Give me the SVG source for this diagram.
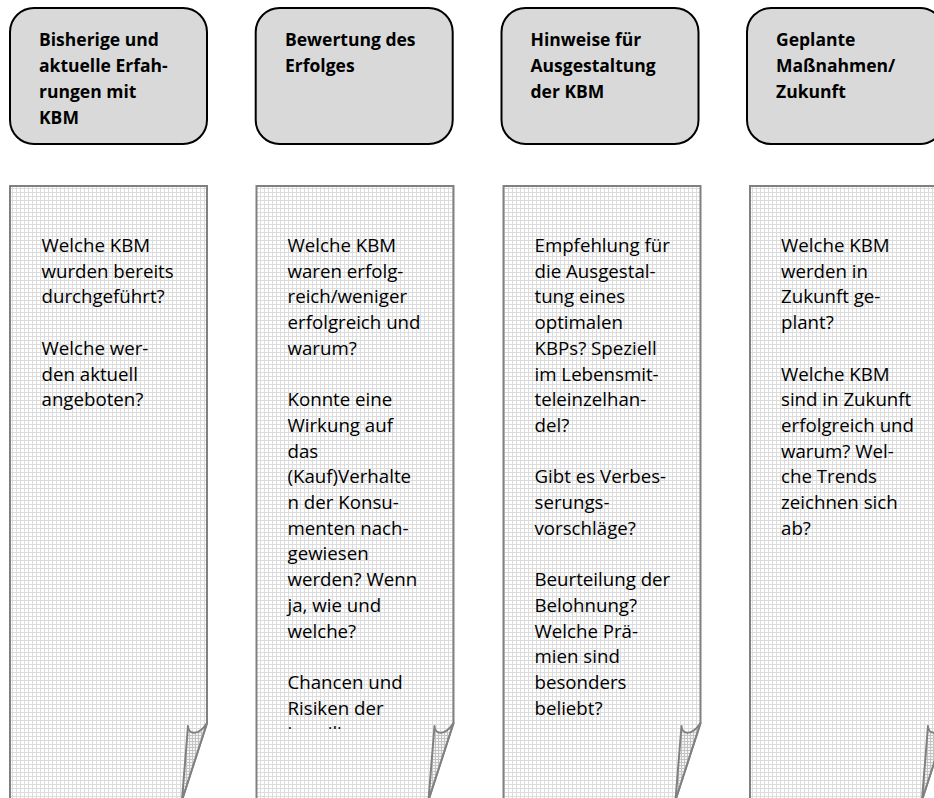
<svg xmlns="http://www.w3.org/2000/svg" width="934" height="798" viewBox="0 0 934 798">
<defs>
<pattern id="grid" width="4" height="4" patternUnits="userSpaceOnUse">
<rect width="4" height="4" fill="#ffffff"/>
<path d="M0 0.5H4M0.5 0V4" stroke="#dcdcdc" stroke-width="1"/>
</pattern>
<pattern id="grid2" width="3" height="3" patternUnits="userSpaceOnUse">
<rect width="3" height="3" fill="#f4f4f4"/>
<path d="M0 0.5H3M0.5 0V3" stroke="#c4c4c4" stroke-width="1"/>
</pattern>
<clipPath id="clip2"><rect x="250" y="186" width="210" height="543"/></clipPath>
</defs>
<style>
.head{fill:#d9d9d9;stroke:#000;stroke-width:2}
.doc{fill:url(#grid);stroke:#808080;stroke-width:2}
.flap{fill:url(#grid2);stroke:#808080;stroke-width:2;stroke-linejoin:round}
.ht{font-family:"Open Sans","Noto Sans",sans-serif;font-weight:bold;font-size:17.5px;fill:#000}
.bt{font-family:"Open Sans","Noto Sans",sans-serif;font-size:18.7px;fill:#000}
</style>

<g id="head1">
<rect class="head" x="10" y="8" width="197" height="136" rx="24" ry="24"/>
<text class="ht"><tspan x="39" y="46">Bisherige und</tspan><tspan x="39" y="72">aktuelle Erfah-</tspan><tspan x="39" y="98">rungen mit</tspan><tspan x="39" y="124">KBM</tspan></text>
</g>
<g id="head2">
<rect class="head" x="255.7" y="8" width="197" height="136" rx="24" ry="24"/>
<text class="ht"><tspan x="285" y="46">Bewertung des</tspan><tspan x="285" y="72">Erfolges</tspan></text>
</g>
<g id="head3">
<rect class="head" x="501.5" y="8" width="197" height="136" rx="24" ry="24"/>
<text class="ht"><tspan x="530.5" y="46">Hinweise für</tspan><tspan x="530.5" y="72">Ausgestaltung</tspan><tspan x="530.5" y="98">der KBM</tspan></text>
</g>
<g id="head4">
<rect class="head" x="747" y="8" width="197" height="136" rx="24" ry="24"/>
<text class="ht"><tspan x="776" y="46">Geplante</tspan><tspan x="776" y="72">Maßnahmen/</tspan><tspan x="776" y="98">Zukunft</tspan></text>
</g>

<g id="doc1">
<path class="doc" d="M10,186 H207 V723 L182,800 H10 Z"/>
<path class="flap" d="M188,726 C188,733 197,738 207,723 L182,800 Z"/>
<text class="bt"><tspan x="41.5" y="252">Welche KBM</tspan><tspan x="41.5" y="277.7">wurden bereits</tspan><tspan x="41.5" y="303.4">durchgeführt?</tspan><tspan x="41.5" y="354.8">Welche wer-</tspan><tspan x="41.5" y="380.5">den aktuell</tspan><tspan x="41.5" y="406.2">angeboten?</tspan></text>
</g>

<g id="doc2">
<path class="doc" d="M256.5,186 H453.5 V723 L428.5,800 H256.5 Z"/>
<path class="flap" d="M434.5,726 C434.5,733 443.5,738 453.5,723 L428.5,800 Z"/>
<text class="bt" clip-path="url(#clip2)"><tspan x="287.5" y="252">Welche KBM</tspan><tspan x="287.5" y="277.7">waren erfolg-</tspan><tspan x="287.5" y="303.4">reich/weniger</tspan><tspan x="287.5" y="329.1">erfolgreich und</tspan><tspan x="287.5" y="354.8">warum?</tspan><tspan x="287.5" y="406.2">Konnte eine</tspan><tspan x="287.5" y="431.9">Wirkung auf</tspan><tspan x="287.5" y="457.6">das</tspan><tspan x="287.5" y="483.3">(Kauf)Verhalte</tspan><tspan x="287.5" y="509">n der Konsu-</tspan><tspan x="287.5" y="534.7">menten nach-</tspan><tspan x="287.5" y="560.4">gewiesen</tspan><tspan x="287.5" y="586.1">werden? Wenn</tspan><tspan x="287.5" y="611.8">ja, wie und</tspan><tspan x="287.5" y="637.5">welche?</tspan><tspan x="287.5" y="688.9">Chancen und</tspan><tspan x="287.5" y="714.6">Risiken der</tspan><tspan x="287.5" y="740.3">jeweiligen</tspan></text>
</g>

<g id="doc3">
<path class="doc" d="M503.5,186 H700.5 V723 L675.5,800 H503.5 Z"/>
<path class="flap" d="M681.5,726 C681.5,733 690.5,738 700.5,723 L675.5,800 Z"/>
<text class="bt"><tspan x="534.5" y="252">Empfehlung für</tspan><tspan x="534.5" y="277.7">die Ausgestal-</tspan><tspan x="534.5" y="303.4">tung eines</tspan><tspan x="534.5" y="329.1">optimalen</tspan><tspan x="534.5" y="354.8">KBPs? Speziell</tspan><tspan x="534.5" y="380.5">im Lebensmit-</tspan><tspan x="534.5" y="406.2">teleinzelhan-</tspan><tspan x="534.5" y="431.9">del?</tspan><tspan x="534.5" y="483.3">Gibt es Verbes-</tspan><tspan x="534.5" y="509">serungs-</tspan><tspan x="534.5" y="534.7">vorschläge?</tspan><tspan x="534.5" y="586.1">Beurteilung der</tspan><tspan x="534.5" y="611.8">Belohnung?</tspan><tspan x="534.5" y="637.5">Welche Prä-</tspan><tspan x="534.5" y="663.2">mien sind</tspan><tspan x="534.5" y="688.9">besonders</tspan><tspan x="534.5" y="714.6">beliebt?</tspan></text>
</g>

<g id="doc4">
<path class="doc" d="M750,186 H947 V723 L922,800 H750 Z"/>
<path class="flap" d="M928,726 C928,733 937,738 947,723 L922,800 Z"/>
<text class="bt"><tspan x="781" y="252">Welche KBM</tspan><tspan x="781" y="277.7">werden in</tspan><tspan x="781" y="303.4">Zukunft ge-</tspan><tspan x="781" y="329.1">plant?</tspan><tspan x="781" y="380.5">Welche KBM</tspan><tspan x="781" y="406.2">sind in Zukunft</tspan><tspan x="781" y="431.9">erfolgreich und</tspan><tspan x="781" y="457.6">warum? Wel-</tspan><tspan x="781" y="483.3">che Trends</tspan><tspan x="781" y="509">zeichnen sich</tspan><tspan x="781" y="534.7">ab?</tspan></text>
</g>

<g id="connectors"/>
</svg>
